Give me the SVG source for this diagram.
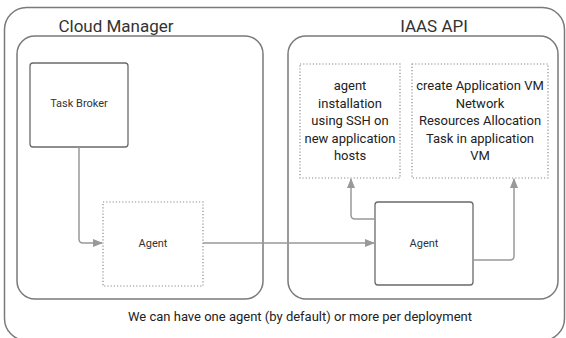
<svg xmlns="http://www.w3.org/2000/svg" width="566" height="338" viewBox="0 0 566 338">
<defs>
<style>
.frame{fill:none;stroke:#7a7a7a;stroke-width:1.5}
.solid{fill:#fff;stroke:#6a6a6a;stroke-width:1.3}
.dot{fill:#fff;stroke:#8a8a8a;stroke-width:1.2;stroke-dasharray:1.2 2}
.conn{fill:none;stroke:#999;stroke-width:1.5}
text{font-family:Roboto,"Liberation Sans",Arial,sans-serif;fill:#333;text-anchor:middle}
.title{font-size:17px}
.lbl{font-size:11px}
.body{font-size:13px;fill:#222}
</style>
<marker id="arr" markerWidth="10" markerHeight="8" refX="9" refY="4" orient="auto" markerUnits="userSpaceOnUse">
<path d="M0,0 L10,4 L0,8 Z" fill="#999"/>
</marker>
</defs>
<rect width="566" height="338" fill="#fff"/>
<g id="outer">
<rect class="frame" x="4.5" y="7.5" width="560" height="333" rx="22"/>
<text class="body" x="300" y="321">We can have one agent (by default) or more per deployment</text>
</g>
<g id="cloud-manager">
<rect class="frame" x="17" y="36" width="246" height="263" rx="18"/>
<text class="title" x="116" y="32">Cloud Manager</text>
</g>
<g id="iaas-api">
<rect class="frame" x="288" y="36" width="270" height="263" rx="18"/>
<text class="title" x="434" y="32">IAAS API</text>
</g>
<g id="task-broker">
<rect class="solid" x="30" y="63" width="98" height="84" rx="3"/>
<text class="lbl" x="79" y="107">Task Broker</text>
</g>
<g id="agent-cm">
<rect class="dot" x="103" y="202" width="100" height="84"/>
<text class="lbl" x="153" y="247">Agent</text>
</g>
<g id="agent-iaas">
<rect class="solid" x="375" y="202" width="98" height="83" rx="3"/>
<text class="lbl" x="424" y="247">Agent</text>
</g>
<g id="agent-installation">
<rect class="dot" x="300" y="64" width="100" height="114"/>
<text class="body"><tspan x="350" y="90">agent</tspan><tspan x="350" y="107.5">installation</tspan><tspan x="350" y="125">using SSH on</tspan><tspan x="350" y="142.5">new application</tspan><tspan x="350" y="160">hosts</tspan></text>
</g>
<g id="create-vm">
<rect class="dot" x="412" y="64" width="136" height="114"/>
<text class="body"><tspan x="480" y="90">create Application VM</tspan><tspan x="480" y="107.5">Network</tspan><tspan x="480" y="125">Resources Allocation</tspan><tspan x="480" y="142.5">Task in application</tspan><tspan x="480" y="160">VM</tspan></text>
</g>
<g id="connectors">
<path class="conn" d="M79,147 V239 Q79,243 83,243 H102" marker-end="url(#arr)"/>
<path class="conn" d="M203,243 H374" marker-end="url(#arr)"/>
<path class="conn" d="M375,219 H355 Q351,219 351,215 V179" marker-end="url(#arr)"/>
<path class="conn" d="M473,260 H510 Q514,260 514,256 V179" marker-end="url(#arr)"/>
</g>
</svg>
